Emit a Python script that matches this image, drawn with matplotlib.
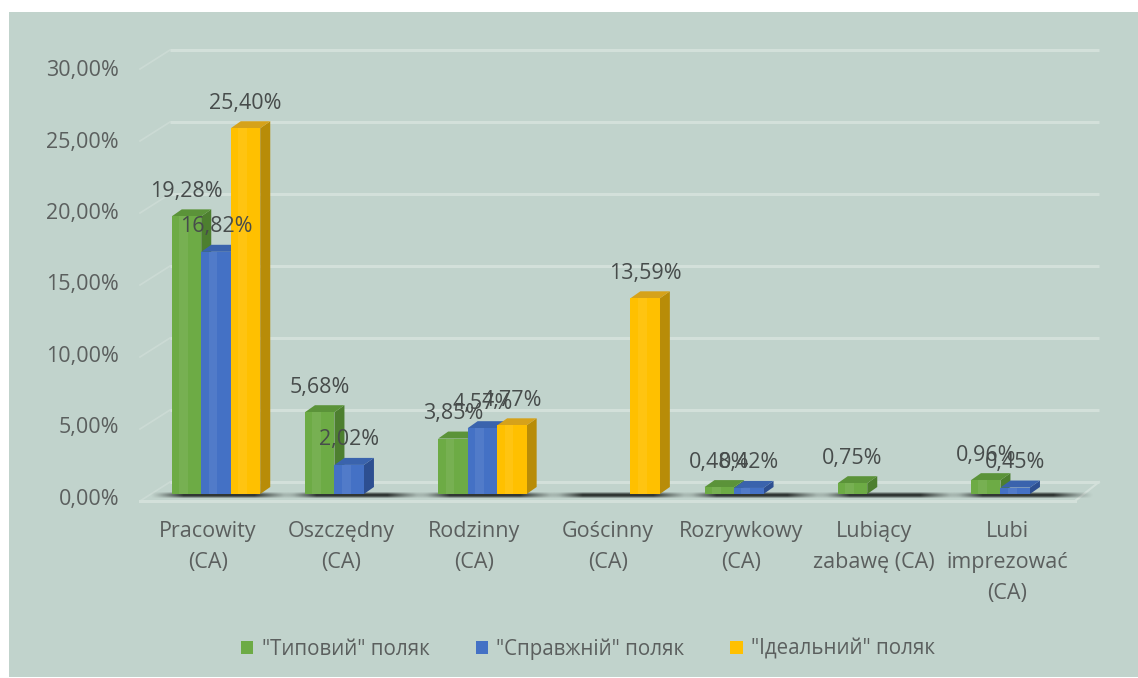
import numpy as np
import matplotlib
matplotlib.use("Agg")
import matplotlib.pyplot as plt
from matplotlib.patches import Polygon, Rectangle, Patch

plt.rcParams['font.family'] = ['Open Sans', 'DejaVu Sans']

# ---- data -------------------------------------------------------------
categories = ["Pracowity\n(CA)", "Oszczędny\n(CA)", "Rodzinny\n(CA)", "Gościnny\n(CA)",
              "Rozrywkowy\n(CA)", "Lubiący\nzabawę (CA)", "Lubi\nimprezować\n(CA)"]
series_names = ['"Типовий" поляк', '"Справжній" поляк', '"Ідеальний" поляк']
typical = [19.28, 5.68, 3.85, 0.0, 0.48, 0.75, 0.96]
real = [16.82, 2.02, 4.57, 0.0, 0.42, 0.0, 0.45]
ideal = [25.40, 0.0, 4.77, 13.59, 0.0, 0.0, 0.0]
y_ticks = [0, 5, 10, 15, 20, 25, 30]

series = [typical, real, ideal]
front_colors = ["#6dab45", "#4471c5", "#ffc000"]
side_colors = ["#4d7f2f", "#2d4f91", "#b88c08"]
top_colors = ["#5b9339", "#3a63ad", "#d6a21a"]

BG = "#c1d3cc"
GRID = "#d3e0da"
TXT = "#5b5f5e"
LBL = "#474c4b"
FS = 15.5

# ---- figure / axes ----------------------------------------------------
W, H = 1138, 678
fig = plt.figure(figsize=(W / 100, H / 100), dpi=100, facecolor="white")
ax = fig.add_axes([0, 0, 1, 1])
ax.set_axis_off()

# axis scaling: one category = 133.2 px, one percent = 14.4 px
PX_X, PX_Y = 133.2, 14.4
X0_PX, Y0_PX = 216, 494
XLIM = (-X0_PX / PX_X, (W - X0_PX) / PX_X)
YLIM = ((Y0_PX - H) / PX_Y, Y0_PX / PX_Y)
ax.set_xlim(*XLIM)
ax.set_ylim(*YLIM)


def dx(px):
    return px / PX_X


def dy(px):
    return px / PX_Y


# chart area background
ax.add_patch(Rectangle((XLIM[0] + dx(9), YLIM[0] + dy(1)), XLIM[1] - XLIM[0] - dx(9),
                       YLIM[1] - YLIM[0] - dy(13), facecolor=BG, edgecolor="none", zorder=0))

# walls: back gridlines + side-wall diagonals, floor edge
back_off = dy(12)
front_off = -dy(7)
left_front, left_back = dx(140 - X0_PX), dx(170 - X0_PX)
right_back, right_front = dx(1099 - X0_PX), dx(1075 - X0_PX)
for v in y_ticks:
    ax.plot([left_back, right_back], [v + back_off, v + back_off], color=GRID, lw=2.2,
            zorder=1, solid_capstyle="butt")
    ax.plot([left_front, left_back], [v + front_off, v + back_off], color=GRID, lw=1.2,
            alpha=0.6, zorder=1)
ax.plot([left_front, right_front], [front_off, front_off], color=GRID, lw=2.2, zorder=1)
ax.plot([right_front, right_back], [front_off, back_off], color=GRID, lw=1.5, zorder=1)

# y tick labels
for v in y_ticks:
    ax.text(dx(119 - X0_PX), v - 0.35 - 0.009 * v, f"{v:.2f}".replace(".", ",") + "%",
            ha="right", va="center", fontsize=FS, color=TXT, zorder=5)

# bars
bw = dx(29.5)
bdx, bdy = dx(10), dy(7)
n = len(categories)

# soft floor shadow profile (alpha ramps in at both ends)
prof_x = np.concatenate([np.linspace(0, 1, 20) ** 1.2, np.ones(40), np.linspace(1, 0, 24) ** 1.2])
prof_y = np.array([0.3, 0.7, 1.0, 1.0, 0.75, 0.35])[:, None]
shadow = np.zeros((prof_y.shape[0], prof_x.size, 4))
shadow[..., :3] = np.array([0.16, 0.18, 0.17])
shadow[..., 3] = 0.95 * prof_y * prof_x[None, :]

for i in range(n):
    g0, g1 = i - 1.5 * bw, i + 1.5 * bw + bdx
    ax.imshow(shadow, extent=(g0 - dx(22), g1 + dx(24), -dy(4), dy(2)),
              aspect="auto", interpolation="bilinear", zorder=2)
    for j, vals in enumerate(series):
        v = vals[i]
        if v <= 0:
            continue
        x0 = i + (j - 1.5) * bw
        x1 = x0 + bw
        z = 3 + j * 0.1
        ax.add_patch(Polygon([(x1, 0), (x1 + bdx, bdy), (x1 + bdx, v + bdy), (x1, v)],
                             closed=True, facecolor=side_colors[j], edgecolor="none", zorder=z))
        ax.add_patch(Polygon([(x0, v), (x1, v), (x1 + bdx, v + bdy), (x0 + bdx, v + bdy)],
                             closed=True, facecolor=top_colors[j], edgecolor="none", zorder=z))
        ax.add_patch(Rectangle((x0, 0), bw, v, facecolor=front_colors[j],
                               edgecolor="none", zorder=z + 0.01))
        # subtle highlight band on the front face
        ax.add_patch(Rectangle((x0 + bw * 0.25, 0), bw * 0.3, v, facecolor="white",
                               edgecolor="none", alpha=0.07, zorder=z + 0.02))
ax.set_xlim(*XLIM)
ax.set_ylim(*YLIM)

# data labels
for j, vals in enumerate(series):
    for i, v in enumerate(vals):
        if v <= 0:
            continue
        xc = i + (j - 1.5) * bw + bw / 2
        ax.text(xc, v + dy(25), f"{v:.2f}".replace(".", ",") + "%", ha="center",
                va="center", fontsize=FS, color=LBL, zorder=6 + j)

# category labels
for i, lab in enumerate(categories):
    ax.text(i - dx(8), dy(Y0_PX - 521), lab, ha="center", va="top", fontsize=FS,
            color=TXT, linespacing=1.62, zorder=5)

# legend
handles = [Patch(facecolor=c, edgecolor="none") for c in front_colors]
leg = fig.legend(handles, series_names, loc="center", bbox_to_anchor=(588 / W, 1 - 649 / H),
                 ncol=3, frameon=False, fontsize=14.8, handlelength=0.6, handleheight=0.6,
                 handletextpad=0.4, columnspacing=2.25, labelcolor=TXT)

fig.savefig("out.png", dpi=100, facecolor="white")
